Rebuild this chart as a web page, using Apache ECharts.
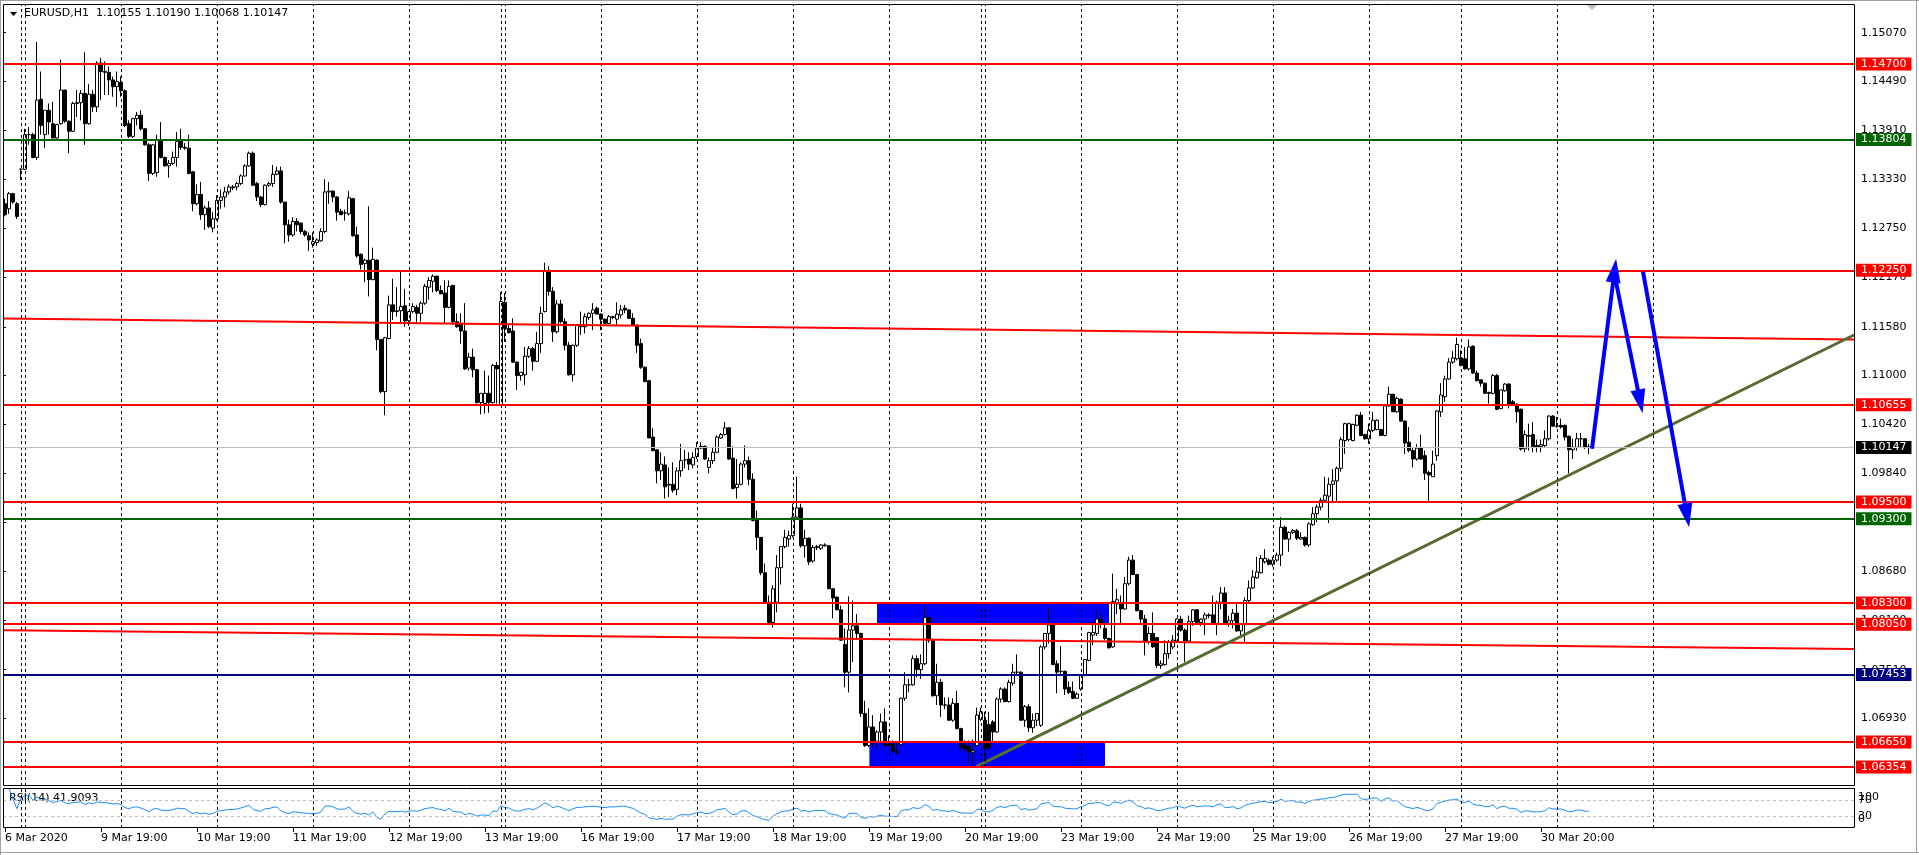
<!DOCTYPE html>
<html><head><meta charset="utf-8">
<script src="https://cdn.jsdelivr.net/npm/echarts@6/dist/echarts.min.js"></script>
<style>html,body{margin:0;padding:0;background:#fff;overflow:hidden}#c{width:1919px;height:855px}</style>
</head><body><div id="c"></div>
<script>
const symbolName = 'EURUSD,H1';
const headerQuote = '1.10155 1.10190 1.10068 1.10147';
const rsiLabel = 'RSI(14) 41.9093';

// H1 bars, prices in pips above 1.0000 (1304 = 1.1304): [open, high, low, close]
const ohlcPips = [
[1304,1310,1289,1291],[1298,1318,1292,1316],[1316,1317,1304,1306],[1304,1306,1286,1289],[1345,1346,1332,1345],
[1345,1393,1344,1386],[1386,1395,1374,1386],[1386,1388,1358,1359],[1359,1496,1356,1427],[1428,1461,1386,1397],
[1386,1415,1370,1415],[1415,1423,1386,1401],[1399,1425,1382,1382],[1382,1399,1381,1398],[1399,1475,1398,1439],
[1439,1439,1400,1402],[1402,1403,1364,1390],[1390,1425,1389,1423],[1423,1439,1407,1424],[1424,1439,1403,1435],
[1435,1484,1374,1399],[1399,1446,1398,1434],[1434,1439,1413,1419],[1419,1473,1413,1471],[1471,1477,1427,1461],
[1461,1473,1433,1460],[1460,1467,1433,1451],[1451,1455,1431,1443],[1443,1461,1419,1449],[1448,1455,1431,1438],
[1438,1440,1395,1397],[1399,1403,1382,1384],[1384,1406,1382,1405],[1405,1413,1397,1409],[1409,1415,1391,1393],
[1393,1394,1373,1374],[1374,1376,1331,1340],[1340,1375,1338,1374],[1341,1386,1336,1380],[1380,1401,1358,1359],
[1359,1360,1348,1349],[1349,1356,1335,1352],[1352,1366,1350,1359],[1359,1389,1348,1378],[1379,1393,1368,1371],
[1371,1376,1368,1370],[1370,1386,1339,1340],[1342,1343,1295,1304],[1304,1327,1302,1315],[1315,1330,1285,1291],
[1291,1302,1273,1299],[1299,1307,1275,1277],[1275,1294,1270,1286],[1286,1314,1284,1308],[1308,1321,1298,1312],
[1312,1324,1300,1318],[1318,1327,1315,1324],[1324,1326,1320,1323],[1324,1330,1320,1328],[1328,1339,1326,1337],
[1337,1351,1336,1349],[1349,1366,1348,1364],[1364,1366,1325,1326],[1328,1330,1307,1312],[1312,1313,1300,1303],
[1303,1327,1302,1326],[1326,1330,1324,1328],[1328,1350,1324,1339],[1339,1348,1338,1343],[1343,1348,1304,1306],
[1306,1306,1257,1279],[1279,1285,1259,1267],[1267,1288,1265,1283],[1283,1287,1271,1279],[1281,1282,1268,1271],
[1271,1273,1265,1267],[1266,1270,1248,1261],[1256,1270,1252,1259],[1258,1263,1254,1261],[1260,1275,1259,1271],
[1271,1333,1269,1318],[1318,1330,1304,1319],[1319,1320,1306,1312],[1312,1313,1284,1294],[1295,1298,1291,1291],
[1293,1297,1284,1293],[1292,1319,1290,1311],[1310,1311,1265,1266],[1267,1277,1240,1242],[1244,1245,1226,1232],
[1233,1239,1211,1237],[1237,1301,1194,1214],[1214,1252,1213,1238],[1237,1238,1130,1143],[1143,1143,1079,1081],
[1081,1146,1053,1145],[1144,1195,1143,1184],[1184,1215,1166,1176],[1176,1205,1170,1177],[1177,1225,1163,1182],
[1183,1203,1158,1165],[1165,1176,1159,1176],[1176,1186,1174,1182],[1181,1184,1162,1174],[1174,1188,1164,1186],
[1186,1209,1184,1206],[1205,1217,1190,1213],[1212,1220,1199,1218],[1218,1219,1199,1201],[1201,1207,1197,1197],
[1198,1213,1162,1181],[1181,1213,1180,1206],[1207,1208,1160,1164],[1164,1174,1157,1158],[1161,1174,1138,1153],
[1153,1186,1107,1108],[1109,1127,1106,1122],[1122,1132,1098,1107],[1107,1108,1067,1068],[1068,1079,1054,1079],
[1067,1106,1055,1079],[1079,1100,1056,1068],[1068,1114,1067,1112],[1112,1116,1067,1108],[1065,1199,1064,1188],
[1187,1198,1140,1156],[1156,1162,1150,1151],[1153,1168,1115,1116],[1116,1117,1083,1100],[1100,1104,1094,1104],
[1101,1134,1089,1123],[1123,1135,1121,1132],[1132,1134,1106,1117],[1117,1152,1116,1138],[1138,1182,1127,1174],
[1176,1234,1175,1225],[1225,1230,1195,1200],[1200,1205,1140,1152],[1152,1190,1150,1185],[1185,1190,1162,1164],
[1164,1168,1130,1136],[1136,1140,1100,1101],[1101,1137,1093,1136],[1136,1160,1134,1160],[1158,1176,1148,1160],
[1158,1174,1150,1170],[1169,1175,1166,1174],[1174,1186,1154,1178],[1180,1182,1173,1173],[1173,1174,1154,1167],
[1167,1168,1161,1162],[1162,1172,1161,1170],[1169,1171,1167,1170],[1167,1187,1160,1173],[1172,1184,1168,1178],
[1180,1184,1174,1178],[1178,1179,1167,1168],[1168,1174,1160,1160],[1160,1160,1127,1136],[1138,1144,1108,1110],
[1110,1111,1092,1093],[1094,1095,1026,1026],[1027,1038,1010,1011],[1012,1013,972,987],[987,1009,976,995],
[994,1004,954,968],[970,991,956,971],[971,997,961,964],[965,991,958,987],[987,1019,980,999],
[1000,1012,990,1000],[1001,1009,988,995],[994,1009,990,1003],[1004,1021,1001,1014],[1014,1021,1013,1016],
[1016,1017,1000,1001],[991,1003,984,999],[999,1015,995,1009],[1009,1029,1008,1027],[1026,1032,1025,1030],
[1030,1045,1029,1038],[1038,1039,1000,1001],[1002,1016,965,966],[967,1001,954,971],[971,997,970,995],
[995,1017,991,999],[999,1004,970,977],[977,984,927,928],[930,940,893,908],[908,908,863,866],
[866,877,830,831],[831,839,806,807],[807,851,801,847],[831,887,819,872],[872,898,852,897],
[897,917,895,908],[906,916,897,910],[910,948,908,932],[932,980,930,943],[943,948,896,898],
[898,917,884,907],[907,908,875,879],[880,899,878,896],[896,899,893,897],[895,900,893,899],
[899,901,897,898],[898,899,847,847],[847,848,812,836],[837,838,822,822],[822,827,785,786],
[781,800,730,748],[748,838,724,798],[798,833,760,803],[803,817,786,794],[794,795,695,699],
[699,714,659,661],[661,705,659,683],[683,697,659,666],[666,679,656,677],[677,699,665,689],
[689,705,659,661],[661,673,660,662],[663,667,653,654],[654,665,651,652],[662,718,662,717],
[717,748,714,733],[733,740,724,733],[733,768,732,764],[764,768,742,751],[751,769,740,758],
[758,828,756,813],[813,813,783,786],[786,788,719,720],[720,758,709,736],[736,740,695,709],
[709,718,704,709],[709,718,690,691],[691,717,689,711],[711,726,680,681],[681,682,654,659],
[661,667,653,657],[660,667,641,653],[653,668,636,655],[661,706,661,697],[692,706,690,701],
[691,701,637,658],[686,701,657,658],[689,691,665,677],[677,718,676,716],[716,730,712,728],
[728,730,713,713],[713,739,712,736],[735,758,732,748],[748,769,744,748],[748,749,690,691],
[691,709,683,707],[707,710,677,682],[682,699,676,691],[691,699,684,699],[685,780,683,778],
[778,794,775,794],[794,825,782,804],[804,805,757,757],[758,762,723,748],[749,779,746,749],
[749,750,721,728],[730,737,722,724],[725,737,716,717],[717,724,716,722],[728,744,726,744],
[744,764,743,763],[762,796,761,795],[792,808,780,795],[794,823,791,811],[811,817,800,806],
[800,806,786,788],[788,789,776,777],[778,865,777,832],[829,847,817,834],[829,839,806,823],
[823,861,822,853],[853,885,851,881],[881,887,863,864],[864,864,820,821],[821,822,805,811],
[811,816,768,784],[784,802,781,794],[794,819,777,778],[789,790,753,756],[756,762,752,758],
[757,786,756,770],[770,786,764,784],[778,792,775,786],[785,812,784,811],[811,815,796,798],
[798,800,760,785],[785,815,784,808],[808,823,803,822],[822,823,806,807],[807,812,803,811],
[811,819,792,816],[816,818,812,815],[816,839,804,806],[806,833,792,831],[831,849,823,842],
[842,849,804,806],[806,815,802,809],[809,823,800,818],[818,831,796,797],[797,806,790,805],
[805,837,784,833],[833,857,831,848],[848,869,847,861],[860,885,859,867],[866,887,865,883],
[879,894,877,883],[881,883,875,876],[876,885,873,881],[881,890,879,887],[887,932,874,920],
[920,922,905,906],[906,915,891,914],[914,918,912,916],[916,918,905,907],[906,914,905,908],
[908,909,897,899],[899,926,897,924],[923,944,922,936],[936,947,926,944],[944,955,940,952],
[952,980,950,958],[957,979,925,971],[971,989,949,975],[975,992,950,990],[990,1027,986,1024],
[1023,1044,1007,1043],[1024,1044,1022,1043],[1023,1043,1022,1042],[1041,1054,1040,1053],[1053,1057,1028,1029],
[1030,1031,1024,1025],[1025,1043,1019,1035],[1035,1057,1033,1047],[1036,1048,1035,1047],[1036,1037,1029,1029],
[1029,1064,1028,1064],[1064,1087,1063,1078],[1078,1078,1057,1057],[1057,1075,1056,1073],[1072,1073,1045,1046],
[1046,1047,1007,1020],[1021,1039,1009,1011],[1011,1015,991,1001],[1001,1019,999,1014],[1014,1030,1000,1001],
[1005,1011,976,984],[985,987,951,982],[980,1011,980,995],[1005,1059,999,1058],[1057,1091,1051,1077],
[1075,1100,1069,1096],[1096,1121,1095,1116],[1116,1129,1114,1121],[1120,1145,1118,1137],[1121,1130,1111,1112],
[1120,1134,1107,1108],[1108,1143,1106,1134],[1135,1136,1102,1103],[1103,1106,1093,1094],[1095,1095,1087,1091],
[1091,1092,1079,1079],[1080,1081,1067,1079],[1079,1102,1078,1100],[1100,1102,1059,1060],[1061,1083,1060,1083],
[1082,1091,1081,1090],[1090,1091,1061,1066],[1069,1071,1065,1066],[1066,1067,1044,1057],[1060,1061,1011,1013],
[1013,1035,1009,1030],[1029,1043,1011,1028],[1030,1045,1009,1016],[1017,1024,1009,1015],[1016,1024,1009,1018],
[1017,1035,1015,1025],[1025,1053,1023,1052],[1052,1053,1040,1040],[1040,1051,1038,1040],[1041,1049,1037,1039],
[1041,1042,1023,1027],[1028,1029,984,1012],[1012,1025,1001,1015],[1015,1032,1011,1025],[1025,1032,1015,1025],
[1025,1026,1013,1015],[1015.5,1019.0,1006.8,1014.7]
];
const futureBars = 66;

const timeLabels = [[0,'6 Mar 2020'],[24,'9 Mar 19:00'],[48,'10 Mar 19:00'],[72,'11 Mar 19:00'],[96,'12 Mar 19:00'],
[120,'13 Mar 19:00'],[144,'16 Mar 19:00'],[168,'17 Mar 19:00'],[192,'18 Mar 19:00'],[216,'19 Mar 19:00'],
[240,'20 Mar 19:00'],[264,'23 Mar 19:00'],[288,'24 Mar 19:00'],[312,'25 Mar 19:00'],[336,'26 Mar 19:00'],
[360,'27 Mar 19:00'],[384,'30 Mar 20:00']];
const daySeparators = [4,5,29,53,77,101,124,125,149,173,197,221,244,245,269,293,317,341,364,388,412];

const priceTicks = [1.15070,1.14490,1.13910,1.13330,1.12750,1.12170,1.11580,1.11000,1.10420,1.09840,1.09260,1.08680,1.08100,1.07510,1.06930];
const rsiTicksA = [100,30];
const rsiTicksB = [70,0];
const rsiLevels = [70,30];

const redLevels = [1.14700,1.12250,1.10655,1.09500,1.08300,1.08050,1.06650,1.06354];
const greenLevels = [1.13804,1.09300];
const navyLevels = [1.07453];
const lastPrice = 1.10147;

// objects: [bar position, price]
const upperRedLine = [[0.25,1.11677],[462.75,1.11428]];
const lowerRedLine = [[0.25,1.07977],[462.75,1.07756]];
const supportTrend = [[243.4,1.06363],[462.75,1.11482]];
const arrowUp = [[397.25,1.10132],[402.9,1.12247]];
const arrowDownA = [[402.9,1.12196],[409.3,1.10693]];
const arrowDownB = [[410.0,1.12235],[421.0,1.09340]];
const zoneUpper = [[218.5,1.08300],[276.5,1.08050]];
const zoneLower = [[216.6,1.06650],[275.5,1.06354]];

// ---------------------------------------------------------------
const FONT = 'DejaVu Sans';
const toPrice = v => 1 + v / 10000;
const nCandles = ohlcPips.length;
const nBars = nCandles + futureBars;
const categories = Array.from({length: nBars}, (_, i) => String(i));
const candleData = ohlcPips.map(r => [toPrice(r[0]), toPrice(r[3]), toPrice(r[2]), toPrice(r[1])]);
const closes = ohlcPips.map(r => toPrice(r[3]));

function computeRSI(c, n) {
  const out = [null]; let ag = 0, al = 0;
  for (let i = 1; i < c.length; i++) {
    const d = c[i] - c[i - 1], g = Math.max(d, 0), l = Math.max(-d, 0);
    if (i <= n) { ag = (ag * (i - 1) + g) / i; al = (al * (i - 1) + l) / i; }
    else { ag = (ag * (n - 1) + g) / n; al = (al * (n - 1) + l) / n; }
    out.push(al === 0 ? 100 : 100 - 100 / (1 + ag / al));
  }
  return out;
}
const rsiData = computeRSI(closes, 14);
const labelMap = {}; timeLabels.forEach(t => labelMap[t[0]] = t[1]);

function levelItem(p, color, textBg, width) {
  return { yAxis: p, lineStyle: { color: color, width: width, type: 'solid' },
    label: { show: true, position: 'end', distance: 1, formatter: p.toFixed(5), color: '#fff',
      backgroundColor: textBg, padding: [1, 5, 0, 5], fontFamily: FONT, fontSize: 11, lineHeight: 12 } };
}
const levelData = [].concat(
  [levelItem(lastPrice, '#c0c0c0', '#000', 1)],
  redLevels.map(p => levelItem(p, '#ff0000', '#ff0000', 2)),
  greenLevels.map(p => levelItem(p, '#006400', '#006400', 2)),
  navyLevels.map(p => levelItem(p, '#000080', '#000080', 2))
);
const sepLine = daySeparators.map(k => ({ xAxis: k }));
const arrowLine = seg => [{ coord: seg[0], symbol: 'none' }, { coord: seg[1], symbol: 'triangle', symbolSize: [15, 24] }];

const rsiAxisBase = {
  type: 'value', gridIndex: 1, position: 'right', min: 0, max: 100, offset: 0,
  splitLine: { show: false }, axisLine: { show: false }, axisTick: { show: false }
};
const rsiRich = {
  up: { padding: [18, 0, 0, 0], fontFamily: FONT, fontSize: 11, color: '#000' },
  dn: { padding: [0, 0, 18, 0], fontFamily: FONT, fontSize: 11, color: '#000' }
};

const chart = echarts.init(document.getElementById('c'), null, { renderer: 'canvas' });
chart.setOption({
  animation: false,
  backgroundColor: '#fff',
  grid: [
    { left: 3, top: 4, width: 1852, height: 782, show: false },
    { left: 3, top: 788, width: 1852, height: 40, show: false }
  ],
  xAxis: [
    { type: 'category', gridIndex: 0, data: categories, boundaryGap: true, show: false },
    { type: 'value', gridIndex: 0, min: 0, max: nBars, show: false },
    { type: 'category', gridIndex: 1, data: categories, boundaryGap: true,
      axisLine: { show: false },
      axisTick: { show: true, alignWithLabel: true, length: 4, interval: i => labelMap[i] !== undefined, lineStyle: { color: '#000' } },
      axisLabel: { show: true, interval: i => labelMap[i] !== undefined, formatter: (v, i) => labelMap[i] || '',
        align: 'left', color: '#000', fontFamily: FONT, fontSize: 11, margin: 5, hideOverlap: false },
      splitLine: { show: false } }
  ],
  yAxis: [
    { type: 'value', gridIndex: 0, position: 'right', min: 1.06129, max: 1.15411,
      splitLine: { show: false }, axisLine: { show: false },
      axisTick: { show: true, customValues: priceTicks, length: 3, lineStyle: { color: '#000' } },
      axisLabel: { show: true, customValues: priceTicks, formatter: v => v.toFixed(5), color: '#000',
        fontFamily: FONT, fontSize: 11, margin: 6, hideOverlap: false, showMinLabel: true, showMaxLabel: true } },
    Object.assign({}, rsiAxisBase, {
      axisLabel: { show: true, customValues: rsiTicksA, color: '#000', fontFamily: FONT, fontSize: 11, margin: 3,
        showMinLabel: true, showMaxLabel: true, hideOverlap: false,
        formatter: v => v === 100 ? '{up|100}' : String(v), rich: rsiRich } }),
    Object.assign({}, rsiAxisBase, {
      axisLabel: { show: true, customValues: rsiTicksB, color: '#000', fontFamily: FONT, fontSize: 11, margin: 3,
        showMinLabel: true, showMaxLabel: true, hideOverlap: false,
        formatter: v => v === 0 ? '{dn|0}' : String(v), rich: rsiRich } })
  ],
  series: [
    { type: 'line', xAxisIndex: 1, yAxisIndex: 0, data: [], z: 1, silent: true,
      markArea: { silent: true, itemStyle: { color: '#0000ff', opacity: 1 },
        data: [[{ coord: zoneUpper[0] }, { coord: zoneUpper[1] }], [{ coord: zoneLower[0] }, { coord: zoneLower[1] }]] } },
    { type: 'candlestick', xAxisIndex: 0, yAxisIndex: 0, data: candleData, barWidth: 3, z: 2, silent: true,
      itemStyle: { color: '#fff', color0: '#000', borderColor: '#000', borderColor0: '#000', borderColorDoji: '#000', borderWidth: 1 },
      markLine: { silent: true, symbol: 'none', label: { show: false }, lineStyle: { color: '#000', type: [3, 3], width: 1 }, data: sepLine } },
    { type: 'line', xAxisIndex: 1, yAxisIndex: 0, data: upperRedLine, symbol: 'none', z: 3, silent: true,
      lineStyle: { color: '#ff0000', width: 2 } },
    { type: 'line', xAxisIndex: 1, yAxisIndex: 0, data: lowerRedLine, symbol: 'none', z: 3, silent: true,
      lineStyle: { color: '#ff0000', width: 2 } },
    { type: 'line', xAxisIndex: 1, yAxisIndex: 0, data: supportTrend, symbol: 'none', z: 4, silent: true,
      lineStyle: { color: '#556b2f', width: 3 } },
    { type: 'line', xAxisIndex: 1, yAxisIndex: 0, data: [], z: 5, silent: true,
      markLine: { silent: true, symbol: 'none', precision: 5, animation: false, data: levelData } },
    { type: 'line', xAxisIndex: 1, yAxisIndex: 0, data: [], z: 6, silent: true,
      markLine: { silent: true, precision: 5, label: { show: false }, lineStyle: { color: '#0000ff', width: 4, type: 'solid' },
        itemStyle: { color: '#0000ff' },
        data: [arrowLine(arrowUp), arrowLine(arrowDownA), arrowLine(arrowDownB)] } },
    { type: 'line', xAxisIndex: 2, yAxisIndex: 1, data: rsiData, symbol: 'none', z: 3, silent: true,
      lineStyle: { color: '#1e90ff', width: 1 },
      markLine: { silent: true, symbol: 'none', precision: 5, label: { show: false },
        data: rsiLevels.map(v => ({ yAxis: v, lineStyle: { color: '#c0c0c0', type: [3, 3], width: 1 } }))
          .concat(sepLine.map(s => ({ xAxis: s.xAxis, lineStyle: { color: '#000', type: [3, 3], width: 1 } }))) } }
  ],
  graphic: [
    { type: 'rect', shape: { x: 3.5, y: 4.5, width: 1851, height: 781 }, style: { fill: null, stroke: '#000', lineWidth: 1 }, silent: true, z: 10 },
    { type: 'rect', shape: { x: 3.5, y: 788.5, width: 1851, height: 39 }, style: { fill: null, stroke: '#000', lineWidth: 1 }, silent: true, z: 10 },
    { type: 'line', shape: { x1: 0, y1: 0.5, x2: 1919, y2: 0.5 }, style: { stroke: '#a0a0a0', lineWidth: 1 }, silent: true },
    { type: 'line', shape: { x1: 0.5, y1: 0, x2: 0.5, y2: 855 }, style: { stroke: '#a0a0a0', lineWidth: 1 }, silent: true },
    { type: 'line', shape: { x1: 1916.5, y1: 0, x2: 1916.5, y2: 852 }, style: { stroke: '#a0a0a0', lineWidth: 1 }, silent: true },
    { type: 'line', shape: { x1: 0, y1: 852.5, x2: 1919, y2: 852.5 }, style: { stroke: '#a0a0a0', lineWidth: 1 }, silent: true },
    { type: 'polygon', shape: { points: [[10, 12], [17, 12], [13.5, 16]] }, style: { fill: '#000' }, silent: true },
    { type: 'polygon', shape: { points: [[1586, 4], [1598, 4], [1592, 10]] }, style: { fill: '#c0c0c0' }, silent: true },
    { type: 'text', left: 24, top: 8, silent: true,
      style: { text: symbolName + '  ' + headerQuote, fill: '#000', font: '11px "' + FONT + '"' } },
    { type: 'text', left: 9, top: 793, silent: true,
      style: { text: rsiLabel, fill: '#000', font: '11px "' + FONT + '"' } }
  ]
});
</script></body></html>
